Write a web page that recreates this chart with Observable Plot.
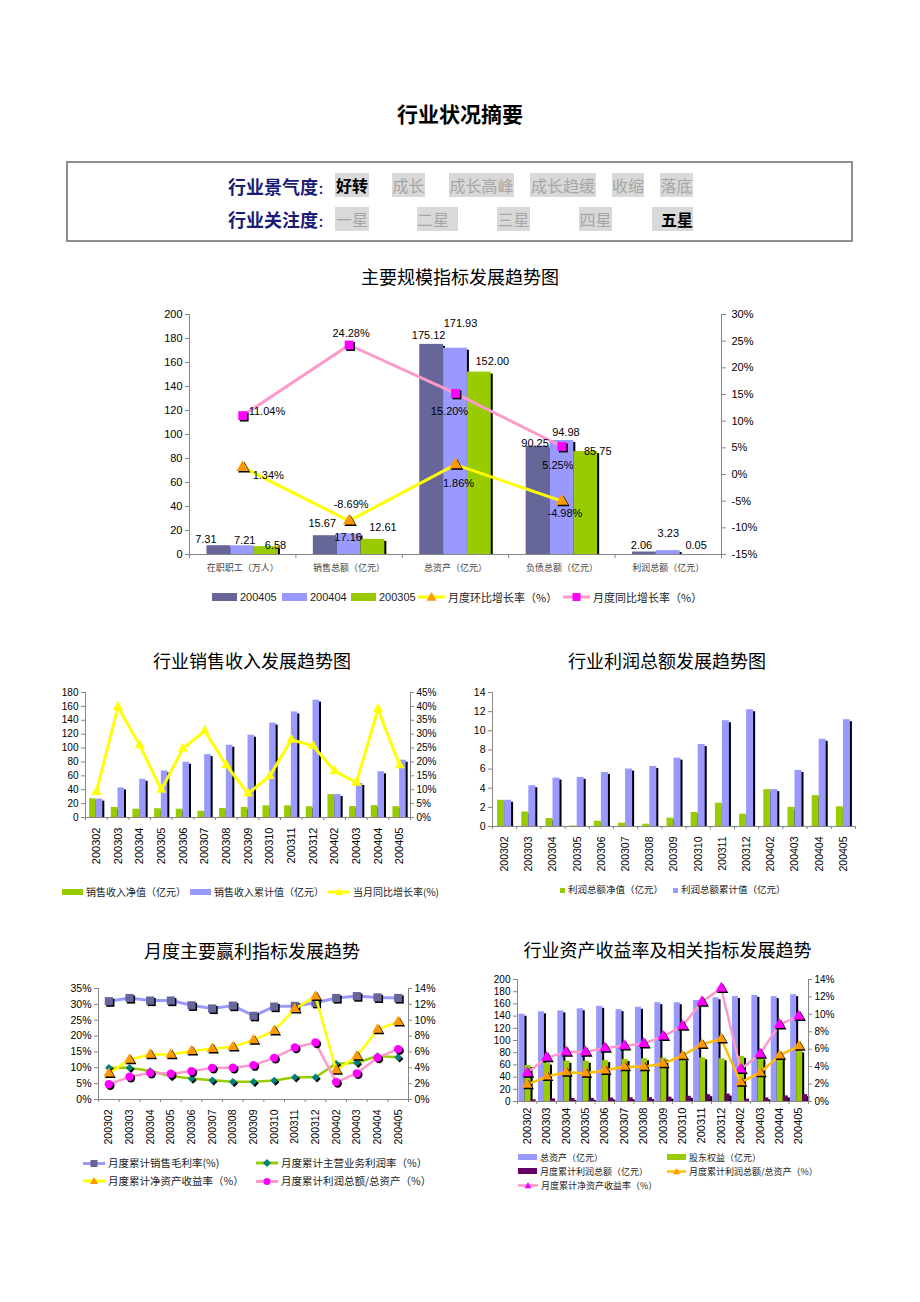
<!DOCTYPE html>
<html>
<head>
<meta charset="utf-8">
<script src="https://cdn.jsdelivr.net/npm/d3@7"></script>
<script src="https://cdn.jsdelivr.net/npm/@observablehq/plot@0.6"></script>
<style>
  body { margin: 0; background: #fff; }
  #page { position: relative; width: 920px; height: 1302px; background: #fff; overflow: hidden;
          font-family: "Noto Sans CJK SC", sans-serif; }
  .abs { position: absolute; white-space: nowrap; }
</style>
</head>
<body>
<div id="page"></div>
<script>
// ---------------- DATA ----------------
const climateLevels = ["好转", "成长", "成长高峰", "成长趋缓", "收缩", "落底"];
const attentionLevels = ["一星", "二星", "三星", "四星", "五星"];
const climateActive = 0;
const attentionActive = 4;

// Chart 1: 主要规模指标发展趋势图
const categories1 = ["在职职工（万人）", "销售总额（亿元）", "总资产（亿元）", "负债总额（亿元）", "利润总额（亿元）"];
const scale200405 = [7.31, 15.67, 175.12, 90.25, 2.06];
const scale200404 = [7.21, 17.16, 171.93, 94.98, 3.23];
const scale200305 = [6.58, 12.61, 152.00, 85.75, 0.05];
const momRate = [1.34, -8.69, 1.86, -4.98];     // 月度环比增长率（%）
const yoyRate = [11.04, 24.28, 15.20, 5.25];    // 月度同比增长率（%）
const leftTicks1 = [0, 20, 40, 60, 80, 100, 120, 140, 160, 180, 200];
const rightTicks1 = [-15, -10, -5, 0, 5, 10, 15, 20, 25, 30];

// Months
const months = ["200302", "200303", "200304", "200305", "200306", "200307", "200308", "200309",
                "200310", "200311", "200312", "200402", "200403", "200404", "200405"];

// Chart 2: 行业销售收入发展趋势图
const salesNet = [27, 14.5, 12, 12.61, 12, 9, 13, 14.5, 16.8, 16.8, 15.5, 33, 15.8, 17.16, 15.67];
const salesCum = [26.5, 42.5, 55, 67, 79.5, 90.5, 104, 118.5, 136, 152, 169, 33, 49, 65.8, 82.5];
const salesYoY = [9.2, 39.8, 26, 10, 24.8, 31.2, 18.8, 8.6, 14.9, 28, 25.8, 16.7, 12.5, 39, 18.8];
const leftTicks2 = [0, 20, 40, 60, 80, 100, 120, 140, 160, 180];
const rightTicks2 = [0, 5, 10, 15, 20, 25, 30, 35, 40, 45];

// Chart 3: 行业利润总额发展趋势图
const profitNet = [2.74, 1.52, 0.83, 0.05, 0.55, 0.35, 0.24, 0.87, 1.46, 2.43, 1.28, 3.85, 2.0, 3.23, 2.06];
const profitCum = [2.74, 4.26, 5.06, 5.13, 5.65, 6.0, 6.27, 7.14, 8.56, 11.05, 12.2, 3.85, 5.86, 9.11, 11.16];
const leftTicks3 = [0, 2, 4, 6, 8, 10, 12, 14];

// Chart 4: 月度主要赢利指标发展趋势
const grossMargin = [31.0, 32.0, 31.2, 31.2, 29.7, 28.7, 29.6, 26.4, 29.3, 29.5, 30.5, 32.0, 32.6, 32.2, 32.0];
const opMargin = [10.0, 10.0, 9.0, 7.4, 6.6, 6.1, 5.6, 5.6, 6.0, 7.0, 7.0, 11.3, 11.6, 13.7, 13.3];
const roe = [3.28, 5.04, 5.67, 5.67, 6.13, 6.39, 6.64, 7.48, 8.66, 11.43, 13.0, 3.7, 5.46, 8.82, 9.79];
const roa = [1.93, 2.86, 3.36, 3.25, 3.57, 3.99, 4.0, 4.33, 5.25, 6.55, 7.18, 2.2, 3.3, 5.28, 6.35];
const leftTicks4 = [0, 5, 10, 15, 20, 25, 30, 35];
const rightTicks4 = [0, 2, 4, 6, 8, 10, 12, 14];

// Chart 5: 行业资产收益率及相关指标发展趋势
const totalAssets = [143, 147, 148.5, 152, 156, 150.5, 154.5, 162, 162, 165.5, 170, 172, 174, 171.93, 175.12];
const equity = [59, 63, 66, 66, 67, 69, 70, 71, 70, 71.5, 70, 74, 71.5, 72.5, 83];
const leftTicks5 = [0, 20, 40, 60, 80, 100, 120, 140, 160, 180, 200];
const rightTicks5 = [0, 2, 4, 6, 8, 10, 12, 14];

// ---------------- HELPERS ----------------
const page = document.getElementById("page");
const axisColor = "#868686";
const numFont = "'Liberation Sans', Arial, sans-serif";
const cjkFont = "'Noto Sans CJK SC', sans-serif";

function addDiv(html, css) {
  const d = document.createElement("div");
  d.className = "abs";
  d.innerHTML = html;
  Object.assign(d.style, css);
  page.appendChild(d);
  return d;
}
function centerText(text, cx, cy, size, extra = {}) {
  return addDiv(text, { left: cx + "px", top: cy + "px", transform: "translate(-50%,-50%)",
    fontSize: size + "px", lineHeight: "1", color: "#000", ...extra });
}
function addLabel(text, x, cy, size, font = cjkFont, color = "#222") {
  return addDiv(text, { left: x + "px", top: cy + "px", transform: "translateY(-50%)",
    fontSize: size + "px", lineHeight: "1", fontFamily: font, color });
}
function addSvg(inner, x, y, w, h) {
  return addDiv(`<svg width="${w}" height="${h}" style="display:block;overflow:visible">${inner}</svg>`,
    { left: x + "px", top: y + "px", width: w + "px", height: h + "px" });
}
function markerPath(shape, cx, cy, s) {
  switch (shape) {
    case "square": return `<rect x="${cx - s}" y="${cy - s}" width="${2 * s}" height="${2 * s}"/>`;
    case "triangle": return `<path d="M${cx},${cy - s}L${cx + s},${cy + s * 0.75}L${cx - s},${cy + s * 0.75}Z"/>`;
    case "circle": return `<circle cx="${cx}" cy="${cy}" r="${s}"/>`;
    case "diamond": return `<path d="M${cx},${cy - s}L${cx + s},${cy}L${cx},${cy + s}L${cx - s},${cy}Z"/>`;
  }
  return "";
}
function legendRect(x, cy, w, h, fill, label, size, font = cjkFont, gap = 3) {
  addSvg(`<rect width="${w}" height="${h}" fill="${fill}"/>`, x, cy - h / 2, w, h);
  addLabel(label, x + w + gap, cy, size, font);
}
function legendLine(x, cy, w, stroke, sw, shape, ms, mfill, label, size, gap = 3) {
  const h = ms * 2 + 4;
  const inner = `<line x1="0" y1="${h / 2}" x2="${w}" y2="${h / 2}" stroke="${stroke}" stroke-width="${sw}"/>` +
    `<g fill="${mfill}">${markerPath(shape, w / 2, h / 2, ms)}</g>`;
  addSvg(inner, x, cy - h / 2, w, h);
  addLabel(label, x + w + gap, cy, size);
}
function mount(svg, left, top) {
  svg.style.position = "absolute";
  svg.style.left = left + "px";
  svg.style.top = top + "px";
  page.appendChild(svg);
}
function plotStyle() {
  return { fontFamily: numFont, fontSize: "10px", background: "transparent", overflow: "visible", color: "#000" };
}
function bars(idx, vals, a, b, fill, pxU) {
  return [
    Plot.rect(idx, { filter: i => vals[i] * pxU > 3, x1: i => i + a, x2: i => i + b, y1: () => 0, y2: i => vals[i],
      fill: "#000", dx: 2, insetTop: 2 }),
    Plot.rect(idx, { x1: i => i + a, x2: i => i + b, y1: () => 0, y2: i => vals[i], fill })
  ];
}
function series(idx, vals, conv, stroke, sw, symbol, r, mfill, shadow = true) {
  const y = i => conv(vals[i]);
  const out = [Plot.line(idx, { x: i => i, y, stroke, strokeWidth: sw })];
  if (shadow) out.push(Plot.dot(idx, { x: i => i, y, symbol, r, fill: "#000", dx: 1.5, dy: 1.5 }));
  out.push(Plot.dot(idx, { x: i => i, y, symbol, r, fill: mfill }));
  return out;
}
function monthAxes(n, o) {
  const m = [
    Plot.ruleY([0], { stroke: axisColor }),
    Plot.ruleX([-0.5], { stroke: axisColor }),
    Plot.axisY({ ticks: o.leftTicks, tickFormat: o.leftFmt || (d => d), tickSize: 4, tickPadding: 3,
      stroke: axisColor, fontSize: o.ySize || 10 }),
    Plot.axisX({ ticks: d3.range(-0.5, n, 1), tickFormat: () => "", tickSize: 3, stroke: axisColor }),
    Plot.axisX({ ticks: d3.range(n), tickFormat: i => months[i], tickRotate: -90, tickSize: 0,
      tickPadding: o.xPad || 10, fontSize: o.xSize || 11 })
  ];
  if (o.rightTicks) {
    m.push(Plot.ruleX([n - 0.5], { stroke: axisColor }));
    m.push(Plot.axisY({ anchor: "right", ticks: o.rightTicks.map(o.rightConv), tickFormat: o.rightFmt,
      tickSize: 3, tickPadding: 3, stroke: axisColor, fontSize: o.ySize || 10 }));
  }
  return m;
}

// ---------------- HEADER ----------------
centerText("行业状况摘要", 460, 113, 21, { fontWeight: "700" });
addDiv("", { left: "66px", top: "161px", width: "783px", height: "77px", border: "2px solid #8e8e8e" });

const navy = "#1b1b78";
addLabel("行业景气度<span style='font-size:12px'>：</span>", 228, 186, 18, cjkFont, navy).style.fontWeight = "700";
addLabel("行业关注度<span style='font-size:12px'>：</span>", 228, 219, 18, cjkFont, navy).style.fontWeight = "700";
const climateBoxes = [[335, 369], [392, 425], [449, 514], [530, 596], [612, 644], [660, 693]];
climateLevels.forEach((t, k) => {
  const [l, r] = climateBoxes[k];
  const active = k === climateActive;
  addDiv(t, { left: l + "px", top: "173px", width: (r - l) + "px", height: "24px", lineHeight: "24px",
    background: "#d9d9d9", fontSize: "16px", textAlign: "center", color: active ? "#000" : "#a6a6a6",
    fontWeight: active ? "700" : "400" });
});
const attentionBoxes = [[335, 369, "center"], [417, 458, "left"], [497, 530, "center"], [579, 612, "center"], [652, 693, "right"]];
attentionLevels.forEach((t, k) => {
  const [l, r, al] = attentionBoxes[k];
  const active = k === attentionActive;
  addDiv(t, { left: l + "px", top: "207px", width: (r - l) + "px", height: "24px", lineHeight: "24px",
    background: "#d9d9d9", fontSize: "16px", textAlign: al, color: active ? "#000" : "#a6a6a6",
    fontWeight: active ? "700" : "400" });
});

// ---------------- CHART 1 ----------------
centerText("主要规模指标发展趋势图", 460, 276, 18);
{
  const W = 620, H = 280, mt = 14, mb = 26, ml = 49, mr = 39;
  const pxU = (H - mt - mb) / 200;
  const conv = p => (p + 15) * 200 / 45;
  const idx = d3.range(5), idx4 = d3.range(4);
  const groups = [
    { vals: scale200405, fill: "#666699", a: -0.336, b: -0.112,
      nudge: [[-13, -6], [-3, -12], [-3, -9], [-3, -3], [-3, -7]] },
    { vals: scale200404, fill: "#9999FF", a: -0.112, b: 0.112,
      nudge: [[2, -5], [-1, 4], [5, -25], [4, -8], [0, -17]] },
    { vals: scale200305, fill: "#99CC00", a: 0.112, b: 0.336,
      nudge: [[9, -1], [10, -12], [13, -11], [12, 0], [4, -9]] }
  ];
  const marks = [];
  groups.forEach(g => marks.push(...bars(idx, g.vals, g.a, g.b, g.fill, pxU)));
  marks.push(
    Plot.ruleY([0], { stroke: axisColor }),
    Plot.ruleX([-0.5, 4.5], { stroke: axisColor }),
    Plot.axisY({ ticks: leftTicks1, tickSize: 4, tickPadding: 3, stroke: axisColor, fontSize: 11, tickFormat: d => d }),
    Plot.axisY({ anchor: "right", ticks: rightTicks1.map(conv), tickFormat: v => Math.round(v * 45 / 200 - 15) + "%",
      tickSize: 4, tickPadding: 6, stroke: axisColor, fontSize: 11 }),
    Plot.axisX({ ticks: d3.range(-0.5, 5, 1), tickFormat: () => "", tickSize: 4, stroke: axisColor }),
    Plot.axisX({ ticks: idx, tickFormat: i => categories1[i], tickSize: 0, tickPadding: 10, fontSize: 9,
      fontFamily: cjkFont, fill: "#444" })
  );
  marks.push(...series(idx4, yoyRate, conv, "#FF99CC", 3, "square", 5, "#FF00FF"));
  marks.push(...series(idx4, momRate, conv, "#FFFF00", 3, "triangle", 4.6, "#FF9900"));
  groups.forEach(g => idx.forEach(i => marks.push(Plot.text([i], { x: d => d + (g.a + g.b) / 2, y: d => g.vals[d],
    text: d => g.vals[d].toFixed(2), dx: g.nudge[i][0], dy: g.nudge[i][1], fontSize: 11 }))));
  const yoyPlace = [["start", 6, -4], ["middle", 2, -12], ["middle", -6, 18], ["middle", -4, 19]];
  const momPlace = [["start", 10, 8], ["middle", 2, -16], ["middle", 3, 19], ["middle", 3, 12]];
  idx4.forEach(i => {
    marks.push(Plot.text([i], { x: d => d, y: d => conv(yoyRate[d]), text: d => yoyRate[d].toFixed(2) + "%",
      textAnchor: yoyPlace[i][0], dx: yoyPlace[i][1], dy: yoyPlace[i][2], fontSize: 11 }));
    marks.push(Plot.text([i], { x: d => d, y: d => conv(momRate[d]), text: d => momRate[d].toFixed(2) + "%",
      textAnchor: momPlace[i][0], dx: momPlace[i][1], dy: momPlace[i][2], fontSize: 11 }));
  });
  const svg = Plot.plot({
    width: W, height: H, marginTop: mt, marginBottom: mb, marginLeft: ml, marginRight: mr,
    x: { domain: [-0.5, 4.5], axis: null },
    y: { domain: [0, 200], axis: null },
    style: plotStyle(),
    marks
  });
  mount(svg, 140, 300);
  legendRect(212, 597, 25, 8, "#666699", "200405", 11, numFont);
  legendRect(282, 597, 25, 8, "#9999FF", "200404", 11, numFont);
  legendRect(351, 597, 25, 8, "#99CC00", "200305", 11, numFont);
  legendLine(418, 597, 27, "#FFFF00", 3, "triangle", 5, "#FF9900", "月度环比增长率（%）", 11);
  legendLine(563, 597, 27, "#FF99CC", 3, "square", 4, "#FF00FF", "月度同比增长率（%）", 11);
}

// ---------------- CHART 2 ----------------
centerText("行业销售收入发展趋势图", 252, 660, 18);
{
  const W = 420, H = 200, mt = 12, mb = 63, ml = 45, mr = 50;
  const n = months.length, idx = d3.range(n);
  const pxU = (H - mt - mb) / 180;
  const conv = p => p * 4;
  const marks = [
    ...bars(idx, salesNet, -0.31, 0, "#99CC00", pxU),
    ...bars(idx, salesCum, 0, 0.3, "#9999FF", pxU),
    ...monthAxes(n, { leftTicks: leftTicks2, rightTicks: rightTicks2, rightConv: conv, rightFmt: v => Math.round(v / 4) + "%" }),
    ...series(idx, salesYoY, conv, "#FFFF00", 3, "triangle", 3.8, "#FFFF00", false)
  ];
  const svg = Plot.plot({
    width: W, height: H, marginTop: mt, marginBottom: mb, marginLeft: ml, marginRight: mr,
    x: { domain: [-0.5, n - 0.5], axis: null },
    y: { domain: [0, 180], axis: null },
    style: plotStyle(), marks
  });
  mount(svg, 40, 680);
  legendRect(62, 891.5, 21, 6, "#99CC00", "销售收入净值（亿元）", 10);
  legendRect(190, 891.5, 21, 6, "#9999FF", "销售收入累计值（亿元）", 10);
  legendLine(328, 891.5, 22, "#FFFF00", 3, "triangle", 4, "#FFFF00", "当月同比增长率(%)", 10);
}

// ---------------- CHART 3 ----------------
centerText("行业利润总额发展趋势图", 667, 660, 18);
{
  const W = 420, H = 200, mt = 12, mb = 54, ml = 42, mr = 15;
  const n = months.length, idx = d3.range(n);
  const pxU = (H - mt - mb) / 14;
  const marks = [
    ...bars(idx, profitNet, -0.29, 0, "#99CC00", pxU),
    ...bars(idx, profitCum, 0, 0.29, "#9999FF", pxU),
    ...monthAxes(n, { leftTicks: leftTicks3, ySize: 10.5, xSize: 10.5 })
  ];
  const svg = Plot.plot({
    width: W, height: H, marginTop: mt, marginBottom: mb, marginLeft: ml, marginRight: mr,
    x: { domain: [-0.5, n - 0.5], axis: null },
    y: { domain: [0, 14], axis: null },
    style: plotStyle(), marks
  });
  mount(svg, 450, 680);
  legendRect(560, 890, 5, 5, "#99CC00", "利润总额净值（亿元）", 9.5);
  legendRect(673, 890, 5, 5, "#9999FF", "利润总额累计值（亿元）", 9.5);
}

// ---------------- CHART 4 ----------------
centerText("月度主要赢利指标发展趋势", 252, 950, 18);
{
  const W = 420, H = 175, mt = 13, mb = 51, ml = 58, mr = 52;
  const n = months.length, idx = d3.range(n);
  const id = v => v;
  const conv = p => p * 2.5;
  const marks = [
    ...monthAxes(n, { leftTicks: leftTicks4, leftFmt: d => d + "%", rightTicks: rightTicks4, rightConv: conv,
      rightFmt: v => Math.round(v / 2.5) + "%", ySize: 10.5, xSize: 10.5 }),
    ...series(idx, grossMargin, id, "#9999FF", 3, "square", 4.6, "#666699"),
    ...series(idx, opMargin, id, "#99CC00", 2.5, "diamond2", 3.4, "#008080"),
    ...series(idx, roe, conv, "#FFFF00", 2.5, "triangle", 4, "#FF9900"),
    ...series(idx, roa, conv, "#FF99CC", 2.5, "circle", 4.2, "#FF00FF")
  ];
  const svg = Plot.plot({
    width: W, height: H, marginTop: mt, marginBottom: mb, marginLeft: ml, marginRight: mr,
    x: { domain: [-0.5, n - 0.5], axis: null },
    y: { domain: [0, 35], axis: null },
    style: plotStyle(), marks
  });
  mount(svg, 40, 975);
  legendLine(83, 1163, 22, "#9999FF", 3, "square", 3.5, "#666699", "月度累计销售毛利率(%)", 10.5);
  legendLine(256, 1163, 22, "#99CC00", 3, "diamond", 4, "#008080", "月度累计主营业务利润率（%）", 10.5);
  legendLine(83, 1181, 22, "#FFFF00", 3, "triangle", 4, "#FF9900", "月度累计净资产收益率（%）", 10.5);
  legendLine(256, 1181, 22, "#FF99CC", 3, "circle", 3.5, "#FF00FF", "月度累计利润总额/总资产（%）", 10.5);
}

// ---------------- CHART 5 ----------------
centerText("行业资产收益率及相关指标发展趋势", 667.5, 949, 18);
{
  const W = 380, H = 180, mt = 9, mb = 49, ml = 47, mr = 42;
  const n = months.length, idx = d3.range(n);
  const pxU = (H - mt - mb) / 200;
  const conv = p => p * 200 / 14;
  const marks = [
    ...bars(idx, totalAssets, -0.42, -0.11, "#9999FF", pxU),
    ...bars(idx, equity, -0.11, 0.2, "#99CC00", pxU),
    ...bars(idx, profitCum, 0.2, 0.46, "#660066", pxU),
    ...monthAxes(n, { leftTicks: leftTicks5, rightTicks: rightTicks5, rightConv: conv,
      rightFmt: v => Math.round(v * 14 / 200) + "%", ySize: 10, xSize: 11, xPad: 6 }),
    ...series(idx, roe, conv, "#FF99CC", 2.5, "triangle", 4.2, "#FF00FF"),
    ...series(idx, roa, conv, "#FFBF00", 2.5, "triangle", 3.9, "#FF9900")
  ];
  const svg = Plot.plot({
    width: W, height: H, marginTop: mt, marginBottom: mb, marginLeft: ml, marginRight: mr,
    x: { domain: [-0.5, n - 0.5], axis: null },
    y: { domain: [0, 200], axis: null },
    style: plotStyle(), marks
  });
  mount(svg, 470, 970);
  legendRect(518, 1157, 19, 6, "#9999FF", "总资产（亿元）", 9);
  legendRect(667, 1157, 19, 6, "#99CC00", "股东权益（亿元）", 9);
  legendRect(518, 1171, 19, 6, "#660066", "月度累计利润总额（亿元）", 9);
  legendLine(667, 1171, 19, "#FFBF00", 2.5, "triangle", 3.5, "#FF9900", "月度累计利润总额/总资产（%）", 9);
  legendLine(518, 1185, 20, "#FF99CC", 2.5, "triangle", 3.5, "#FF00FF", "月度累计净资产收益率（%）", 9);
}
</script>
</body>
</html>
